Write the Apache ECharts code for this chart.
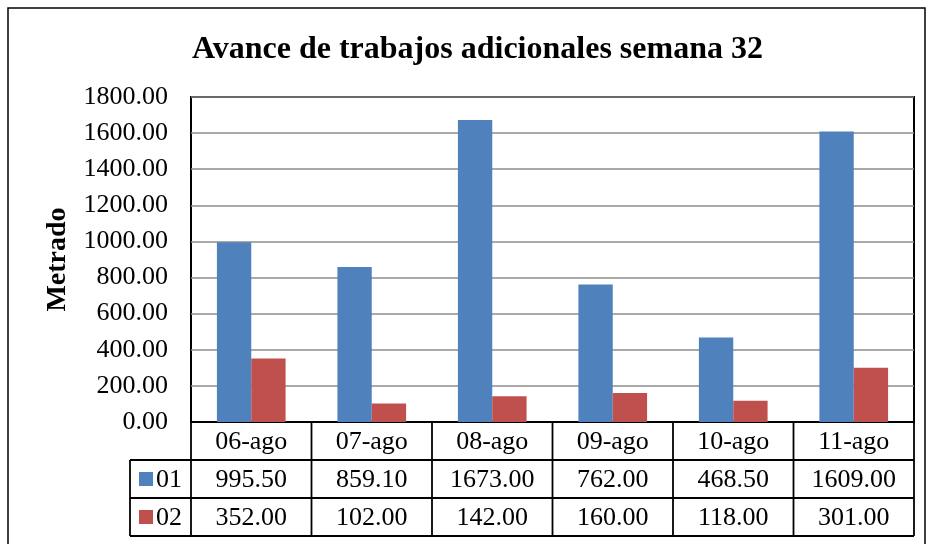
<!DOCTYPE html>
<html>
<head>
<meta charset="utf-8">
<script src="https://cdn.jsdelivr.net/npm/echarts@6/dist/echarts.min.js"></script>
<style>
  html, body { margin: 0; padding: 0; background: #fff; }
  #chart { width: 931px; height: 544px; }
</style>
</head>
<body>
<div id="chart"></div>
<script>
// datos
const categories = ['06-ago', '07-ago', '08-ago', '09-ago', '10-ago', '11-ago'];
const seriesNames = ['01', '02'];
const values01 = [995.5, 859.1, 1673.0, 762.0, 468.5, 1609.0];
const values02 = [352.0, 102.0, 142.0, 160.0, 118.0, 301.0];
const colors = ['#4F81BD', '#C0504D'];

const FONT = "'Liberation Serif', 'Times New Roman', serif";

const chart = echarts.init(document.getElementById('chart'));

const gridLeft = 191, gridTop = 97, gridRight = 914, gridBottom = 422;
const rowH = 38;

chart.setOption({
  animation: false,
  title: {
    text: 'Avance de trabajos adicionales semana 32',
    left: 187,
    top: 29,
    textStyle: { fontFamily: FONT, fontSize: 32, fontWeight: 'bold', color: '#000' }
  },
  grid: {
    left: gridLeft,
    top: gridTop,
    right: 931 - gridRight,
    bottom: 544 - gridBottom,
    show: true,
    borderColor: '#000',
    borderWidth: 2,
    containLabel: false
  },
  xAxis: {
    type: 'category',
    data: categories,
    axisLine: { lineStyle: { color: '#000', width: 2 } },
    axisTick: { show: false },
    axisLabel: { show: false }
  },
  yAxis: {
    type: 'value',
    min: 0,
    max: 1800,
    interval: 200,
    name: 'Metrado',
    nameLocation: 'middle',
    nameGap: 119,
    nameRotate: 90,
    nameTextStyle: { fontFamily: FONT, fontSize: 28, fontWeight: 'bold', color: '#000' },
    axisLine: { show: false },
    axisTick: { show: false },
    axisLabel: {
      margin: 23,
      fontFamily: FONT,
      fontSize: 26,
      color: '#000',
      formatter: v => v.toFixed(2)
    },
    splitLine: { lineStyle: { color: '#8c8c8c', width: 1.5 } }
  },
  series: [
    {
      name: seriesNames[0],
      type: 'bar',
      data: values01,
      itemStyle: { color: colors[0] },
      barGap: '0%',
      barCategoryGap: '43%'
    },
    {
      name: seriesNames[1],
      type: 'bar',
      data: values02,
      itemStyle: { color: colors[1] },
      barGap: '0%',
      barCategoryGap: '43%'
    }
  ]
});

// tabla de datos debajo del eje
function buildTable() {
  const elements = [];
  const lineStyle = { stroke: '#000', lineWidth: 1.8 };
  const colW = (gridRight - gridLeft) / categories.length;
  const legendLeft = 130;
  const y0 = gridBottom, y1 = y0 + rowH, y2 = y1 + rowH, y3 = y2 + rowH;

  // marco exterior del gráfico
  elements.push({
    type: 'rect',
    shape: { x: 8, y: 8, width: 917, height: 560 },
    style: { fill: null, stroke: '#000', lineWidth: 1.5 }
  });

  // líneas horizontales
  elements.push({ type: 'line', shape: { x1: legendLeft, y1: y1, x2: gridRight, y2: y1 }, style: lineStyle });
  elements.push({ type: 'line', shape: { x1: legendLeft, y1: y2, x2: gridRight, y2: y2 }, style: lineStyle });
  elements.push({ type: 'line', shape: { x1: legendLeft, y1: y3, x2: gridRight, y2: y3 }, style: lineStyle });
  // línea izquierda de la leyenda
  elements.push({ type: 'line', shape: { x1: legendLeft, y1: y1, x2: legendLeft, y2: y3 }, style: lineStyle });
  // líneas verticales de columnas
  for (let i = 0; i <= categories.length; i++) {
    const x = gridLeft + i * colW;
    elements.push({ type: 'line', shape: { x1: x, y1: y0, x2: x, y2: y3 }, style: lineStyle });
  }

  const textStyle = { fontFamily: FONT, fontSize: 26, fill: '#000', align: 'center', verticalAlign: 'middle' };
  categories.forEach((c, i) => {
    const cx = chart.convertToPixel({ xAxisIndex: 0 }, c);
    elements.push({ type: 'text', x: cx, y: y0 + rowH / 2 + 1, style: Object.assign({ text: c }, textStyle) });
    elements.push({ type: 'text', x: cx, y: y1 + rowH / 2 + 1, style: Object.assign({ text: values01[i].toFixed(2) }, textStyle) });
    elements.push({ type: 'text', x: cx, y: y2 + rowH / 2 + 1, style: Object.assign({ text: values02[i].toFixed(2) }, textStyle) });
  });

  // leyenda dentro de la tabla
  [values01, values02].forEach((_, k) => {
    const yc = y1 + k * rowH + rowH / 2;
    elements.push({ type: 'rect', shape: { x: 139, y: yc - 7, width: 14, height: 14 }, style: { fill: colors[k] } });
    elements.push({
      type: 'text', x: 156, y: yc + 1,
      style: { text: seriesNames[k], fontFamily: FONT, fontSize: 26, fill: '#000', align: 'left', verticalAlign: 'middle' }
    });
  });

  chart.setOption({ graphic: { elements } });
}

buildTable();
</script>
</body>
</html>
